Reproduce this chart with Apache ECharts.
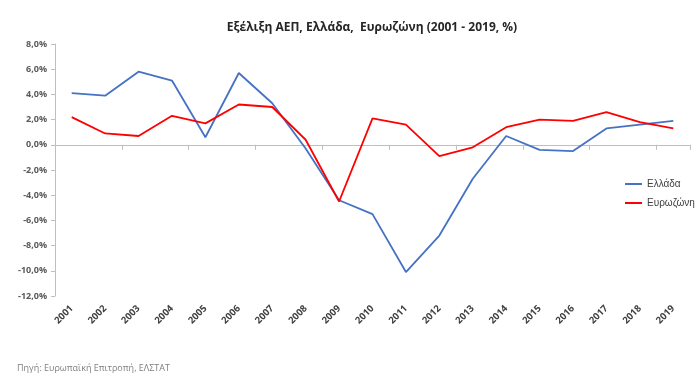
<!DOCTYPE html>
<html><head><meta charset="utf-8">
<script src="https://cdn.jsdelivr.net/npm/echarts@6/dist/echarts.min.js"></script>
<style>html,body{margin:0;padding:0;background:#fff}#c{width:700px;height:385px}</style>
</head><body><div id="c"></div>
<script>
const years = ['2001','2002','2003','2004','2005','2006','2007','2008','2009','2010','2011','2012','2013','2014','2015','2016','2017','2018','2019'];
const greece = [4.1,3.9,5.8,5.1,0.6,5.7,3.3,-0.3,-4.4,-5.5,-10.1,-7.2,-2.7,0.7,-0.4,-0.5,1.3,1.6,1.9];
const eurozone = [2.2,0.9,0.7,2.3,1.7,3.2,3.0,0.4,-4.5,2.1,1.6,-0.9,-0.2,1.4,2.0,1.9,2.6,1.8,1.3];
const titleText = 'Εξέλιξη ΑΕΠ, Ελλάδα,  Ευρωζώνη (2001 - 2019, %)';
const sourceText = 'Πηγή: Ευρωπαϊκή Επιτροπή, ΕΛΣΤΑΤ';
const font = 'Open Sans';
const chart = echarts.init(document.getElementById('c'));
chart.setOption({
  backgroundColor:'#fff',
  animation:false,
  title:[{text:titleText,left:367,top:17,textAlign:'center',textStyle:{fontFamily:font,fontSize:12,fontWeight:'bold',color:'#262626'}},
         {text:sourceText,left:12,top:359,textStyle:{fontFamily:font,fontSize:9,fontWeight:'normal',color:'#7f7f7f'}}],
  grid:{left:55,right:10,top:44,bottom:89},
  legend:{orient:'vertical',left:620,top:174,padding:5,itemWidth:17,itemHeight:2,itemGap:9,icon:'rect',
    textStyle:{fontFamily:'Liberation Sans',fontSize:10,color:'#404040'},data:['Ελλάδα','Ευρωζώνη']},
  xAxis:[{type:'category',data:years,boundaryGap:true,
      axisLine:{onZero:true,lineStyle:{color:'#bfbfbf',width:1}},
      axisTick:{show:true,length:5,lineStyle:{color:'#bfbfbf'}},axisLabel:{show:false},splitLine:{show:false}},
    {type:'category',data:years,position:'bottom',boundaryGap:true,axisLine:{show:false},axisTick:{show:false},
      axisLabel:{rotate:45,margin:11,fontFamily:font,fontSize:9.5,fontWeight:'bold',color:'#404040'}}],
  yAxis:{type:'value',min:-12,max:8,interval:2,
    axisLine:{show:true,lineStyle:{color:'#bfbfbf'}},
    axisTick:{show:true,length:4,lineStyle:{color:'#bfbfbf'}},
    splitLine:{show:false},
    axisLabel:{margin:8,fontFamily:font,fontSize:9,fontWeight:'bold',color:'#595959',
      formatter:v=>v.toFixed(1).replace('.',',')+'%'}},
  series:[
    {name:'Ελλάδα',type:'line',xAxisIndex:0,data:greece,symbol:'none',lineStyle:{color:'#4472C4',width:1.8},itemStyle:{color:'#4472C4'}},
    {name:'Ευρωζώνη',type:'line',xAxisIndex:0,data:eurozone,symbol:'none',lineStyle:{color:'#FF0000',width:1.8},itemStyle:{color:'#FF0000'}}
  ]
});
</script></body></html>
